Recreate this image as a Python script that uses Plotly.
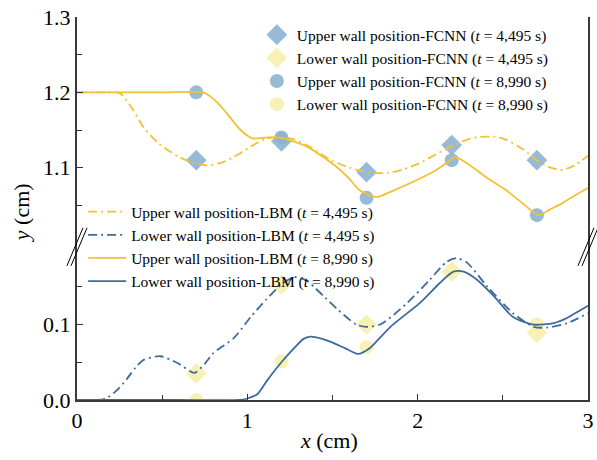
import plotly.graph_objects as go

# ---------------- data ----------------
x_fcnn = [0.7, 1.2, 1.7, 2.2, 2.7]
upper_fcnn_4495 = [1.110, 1.135, 1.094, 1.130, 1.110]
lower_fcnn_4495 = [0.035, 0.153, 0.100, 0.170, 0.089]
upper_fcnn_8990 = [1.200, 1.140, 1.060, 1.110, 1.037]
lower_fcnn_8990 = [0.000, 0.051, 0.070, 0.171, 0.100]

x_up_4495 = [0.0, 0.15, 0.25, 0.32, 0.39, 0.48, 0.6, 0.68, 0.76, 0.84, 0.92, 1.02, 1.11, 1.2, 1.27, 1.38,
             1.49, 1.6, 1.7, 1.82, 1.92, 2.01, 2.11, 2.21, 2.3, 2.37, 2.45, 2.52, 2.62, 2.7, 2.78, 2.85, 2.92, 3.0]
y_up_4495 = [1.200, 1.200, 1.199, 1.180, 1.154, 1.132, 1.114, 1.107, 1.103, 1.106, 1.114, 1.128, 1.139, 1.140, 1.138, 1.126,
             1.110, 1.100, 1.094, 1.093, 1.098, 1.106, 1.118, 1.130, 1.138, 1.141, 1.141, 1.137, 1.124, 1.110, 1.100, 1.097, 1.103, 1.116]

x_up_8990 = [0.0, 0.5, 0.74, 0.78, 0.83, 0.88, 0.96, 1.03, 1.11, 1.19, 1.27, 1.35, 1.44, 1.53, 1.6, 1.66, 1.76, 1.84,
             1.97, 2.11, 2.18, 2.22, 2.29, 2.41, 2.52, 2.62, 2.71, 2.78, 2.85, 2.93, 3.0]
y_up_8990 = [1.200, 1.200, 1.200, 1.195, 1.185, 1.172, 1.150, 1.139, 1.140, 1.140, 1.135, 1.128, 1.115, 1.100, 1.085, 1.070, 1.061, 1.068,
             1.081, 1.097, 1.108, 1.114, 1.106, 1.086, 1.070, 1.052, 1.037, 1.045, 1.053, 1.064, 1.073]

x_lo_4495 = [0.0, 0.12, 0.17, 0.23, 0.29, 0.34, 0.39, 0.49, 0.59, 0.69, 0.75, 0.8, 0.92, 1.02, 1.11, 1.21, 1.28,
             1.35, 1.40, 1.46, 1.53, 1.64, 1.70, 1.78, 1.86, 1.94, 2.07, 2.17, 2.23, 2.29, 2.41, 2.56, 2.68, 2.76, 2.88, 3.0]
y_lo_4495 = [0.000, 0.000, 0.002, 0.012, 0.027, 0.042, 0.053, 0.058, 0.049, 0.036, 0.048, 0.062, 0.082, 0.110, 0.133, 0.155, 0.163,
             0.158, 0.148, 0.135, 0.120, 0.100, 0.097, 0.100, 0.113, 0.129, 0.159, 0.183, 0.188, 0.182, 0.150, 0.115, 0.097, 0.096, 0.102, 0.115]

x_lo_8990 = [0.0, 0.6, 0.95, 1.0, 1.06, 1.12, 1.2, 1.28, 1.33, 1.37, 1.44, 1.49, 1.57, 1.65, 1.72, 1.84, 2.01,
             2.13, 2.21, 2.27, 2.35, 2.45, 2.56, 2.68, 2.8, 2.88, 2.94, 3.0]
y_lo_8990 = [0.000, 0.000, 0.000, 0.002, 0.008, 0.027, 0.050, 0.070, 0.081, 0.084, 0.081, 0.077, 0.069, 0.061, 0.069, 0.097, 0.128,
             0.155, 0.170, 0.170, 0.159, 0.137, 0.110, 0.100, 0.102, 0.109, 0.117, 0.125]

x_ticks = [0, 1, 2, 3]
y_low_ticks = [0.0, 0.1]
y_high_ticks = [1.1, 1.2, 1.3]

# ---------------- style ----------------
FONT = "Liberation Serif"
MBLUE = "rgba(140,178,210,0.9)"
MYEL = "rgba(247,240,178,0.95)"
LYEL = "#F2C233"
LBLUE = "#3E6B9C"
SMOOTH = 0.7
AXC = "#3a3a3a"
AXW = 2

fig = go.Figure()

# FCNN markers (legend 1)
fig.add_trace(go.Scatter(x=x_fcnn, y=upper_fcnn_4495, mode="markers", yaxis="y2",
                         marker=dict(symbol="diamond", size=16, color=MBLUE),
                         name="Upper wall position-FCNN (<i>t</i> = 4,495 s)", legend="legend"))
fig.add_trace(go.Scatter(x=x_fcnn, y=lower_fcnn_4495, mode="markers", yaxis="y",
                         marker=dict(symbol="diamond", size=16, color=MYEL),
                         name="Lower wall position-FCNN (<i>t</i> = 4,495 s)", legend="legend"))
fig.add_trace(go.Scatter(x=x_fcnn, y=upper_fcnn_8990, mode="markers", yaxis="y2",
                         marker=dict(symbol="circle", size=14, color=MBLUE),
                         name="Upper wall position-FCNN (<i>t</i> = 8,990 s)", legend="legend"))
fig.add_trace(go.Scatter(x=x_fcnn, y=lower_fcnn_8990, mode="markers", yaxis="y",
                         marker=dict(symbol="circle", size=14, color=MYEL),
                         name="Lower wall position-FCNN (<i>t</i> = 8,990 s)", legend="legend"))

# LBM lines (legend 2)
fig.add_trace(go.Scatter(x=x_up_4495, y=y_up_4495, mode="lines", yaxis="y2",
                         line=dict(color=LYEL, width=1.8, dash="9px,4px,2px,4px", shape="spline", smoothing=SMOOTH),
                         name="Upper wall position-LBM (<i>t</i> = 4,495 s)", legend="legend2"))
fig.add_trace(go.Scatter(x=x_lo_4495, y=y_lo_4495, mode="lines", yaxis="y",
                         line=dict(color=LBLUE, width=1.8, dash="9px,4px,2px,4px", shape="spline", smoothing=SMOOTH),
                         name="Lower wall position-LBM (<i>t</i> = 4,495 s)", legend="legend2"))
fig.add_trace(go.Scatter(x=x_up_8990, y=y_up_8990, mode="lines", yaxis="y2",
                         line=dict(color=LYEL, width=1.8, shape="spline", smoothing=SMOOTH),
                         name="Upper wall position-LBM (<i>t</i> = 8,990 s)", legend="legend2"))
fig.add_trace(go.Scatter(x=x_lo_8990, y=y_lo_8990, mode="lines", yaxis="y",
                         line=dict(color=LBLUE, width=1.8, shape="spline", smoothing=SMOOTH),
                         name="Lower wall position-LBM (<i>t</i> = 8,990 s)", legend="legend2"))

SPLIT = 0.4
TICKFONT = dict(size=22, family=FONT, color="black")
fig.update_layout(
    width=597, height=460,
    margin=dict(l=77, r=9, t=17, b=60),
    paper_bgcolor="white", plot_bgcolor="white",
    font=dict(family=FONT, color="black"),
    xaxis=dict(range=[0, 3], domain=[0, 1], anchor="y", tickvals=x_ticks, automargin=False,
               ticks="inside", ticklen=6, tickcolor="#333", showline=True, linecolor=AXC, linewidth=AXW,
               showgrid=False, zeroline=False, tickfont=TICKFONT, ticklabeloverflow="allow",
               minor=dict(tickvals=[0.5, 1.5, 2.5], ticks="inside", ticklen=5, tickcolor="#333")),
    xaxis2=dict(range=[0, 3], domain=[0, 1], anchor="y2", overlaying="x", side="top", automargin=False,
                showline=True, linecolor=AXC, linewidth=AXW, ticks="", showticklabels=False,
                showgrid=False, zeroline=False),
    yaxis=dict(range=[0, 0.203], domain=[0, SPLIT], anchor="x", tickvals=y_low_ticks, tickformat=".1f",
               automargin=False, mirror=True,
               ticks="inside", ticklen=6, tickcolor="#333", showline=True, linecolor=AXC, linewidth=AXW,
               showgrid=False, zeroline=False, tickfont=TICKFONT,
               minor=dict(tickvals=[0.05, 0.15], ticks="inside", ticklen=5, tickcolor="#333")),
    yaxis2=dict(range=[0.995, 1.3], domain=[SPLIT, 1], anchor="x", tickvals=y_high_ticks, tickformat=".1f",
                automargin=False, ticklabeloverflow="allow", mirror=True,
                ticks="inside", ticklen=6, tickcolor="#333", showline=True, linecolor=AXC, linewidth=AXW,
                showgrid=False, zeroline=False, tickfont=TICKFONT,
                minor=dict(tickvals=[1.05, 1.15, 1.25], ticks="inside", ticklen=5, tickcolor="#333")),
    legend=dict(x=0.352, y=0.997, xanchor="left", yanchor="top", bgcolor="rgba(0,0,0,0)",
                font=dict(size=15.5, family=FONT, color="black"), tracegroupgap=0, itemwidth=30),
    legend2=dict(x=0.012, y=0.535, xanchor="left", yanchor="top", bgcolor="rgba(0,0,0,0)",
                 font=dict(size=15.5, family=FONT, color="black"), tracegroupgap=0, itemwidth=38),
    annotations=[
        dict(text="<i>y</i> (cm)", xref="paper", yref="paper", x=-0.108, y=0.49,
             textangle=-90, showarrow=False, font=dict(size=22, family=FONT, color="black"),
             xanchor="center", yanchor="middle"),
        dict(text="<i>x</i> (cm)", xref="paper", yref="paper", x=0.494, y=-0.105,
             showarrow=False, font=dict(size=22, family=FONT, color="black"),
             xanchor="center", yanchor="middle"),
    ],
)

# axis-break marks (decoration)
shapes = []
dx, dy = 8 / 511, 19 / 383
for xc in (0.0, 1.0):
    for off in (-0.004, 0.004):
        shapes.append(dict(type="line", xref="paper", yref="paper",
                           x0=xc - dx + off, x1=xc + dx + off, y0=SPLIT - dy, y1=SPLIT + dy,
                           line=dict(color="black", width=1)))
fig.update_layout(shapes=shapes)

# remove the browser's default 8px body margin so the figure sits at the page origin
fig.write_html("out.html", config={"displayModeBar": False},
               post_script="document.body.style.margin='0';document.body.style.overflow='hidden';")
